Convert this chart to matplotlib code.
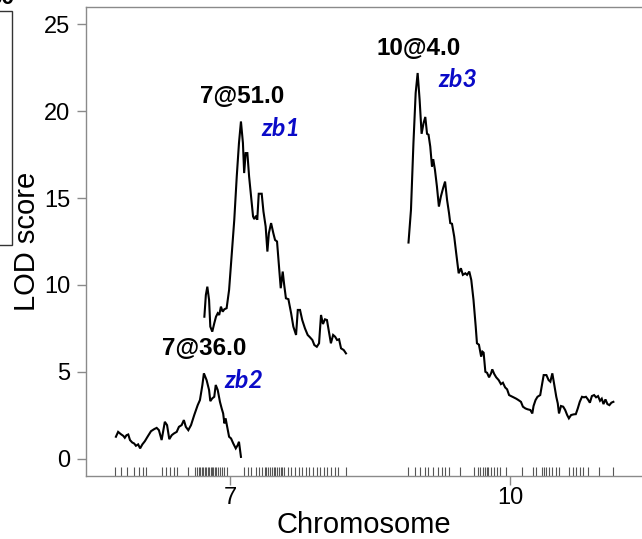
import numpy as np
import matplotlib
matplotlib.use("Agg")
import matplotlib.pyplot as plt
from matplotlib.patches import Rectangle

plt.rcParams["font.family"] = ["Liberation Sans", "DejaVu Sans"]

# chromosome layout (cM)
chromosomes = ["7", "10"]
chr_lengths = [93.5, 83.0]
chr_gap = 25.0

# marker positions (cM) drawn as a rug
chr7_markers = [0.0, 2.5, 4.7, 7.6, 9.8, 11.2, 12.7, 18.9, 20.6, 22.1, 23.8, 25.3,
                29.4, 32.5, 33.4, 34.0, 34.6, 35.2, 35.7, 36.3, 36.9, 37.5, 38.1,
                38.7, 39.2, 39.8, 40.4, 41.0, 41.7, 42.4, 43.3, 44.2, 45.3, 52.3,
                53.7, 55.2, 56.9, 58.4, 59.5, 60.6, 61.3, 62.0, 62.8, 63.5, 64.2,
                64.9, 65.6, 66.4, 67.1, 67.8, 68.5, 70.0, 71.4, 72.9, 74.3, 75.8,
                77.2, 78.7, 80.2, 81.6, 83.0, 84.5, 86.0, 87.4, 88.9, 90.3, 93.5]
chr10_markers = [0.0, 2.9, 5.1, 6.8, 8.3, 10.1, 12.3, 13.8, 15.2, 16.7, 21.3, 26.8,
                 28.3, 29.4, 30.4, 31.2, 31.9, 32.6, 33.8, 34.8, 36.3, 37.3, 39.9,
                 46.4, 50.8, 51.8, 54.4, 55.1, 55.8, 57.3, 58.5, 59.9, 61.4, 65.3,
                 66.8, 68.2, 69.6, 71.1, 73.0, 77.3, 83.0]

# zb2 (chr 7)
zb2_pos = [0.4, 1.3, 2.4, 3.4, 4.0, 4.7, 5.4, 6.1, 7.0, 7.8, 8.5, 9.4, 10.2, 11.1,
           12.1, 13.2, 14.6, 15.9, 16.9, 17.8, 18.9, 20.2, 21.1, 22.0, 23.0, 23.9,
           25.0, 25.9, 27.0, 27.9, 28.7, 29.7, 30.8, 32.1, 33.5, 34.4, 35.4, 36.0,
           37.1, 38.1, 38.6, 39.4, 40.2, 40.8, 41.6, 42.5, 43.2, 43.8, 44.3, 44.8,
           45.3, 46.2, 47.0, 47.9, 48.9, 49.7, 50.2, 51.0]
zb2_lod = [1.26, 1.54, 1.41, 1.31, 1.20, 1.35, 1.39, 1.07, 0.93, 0.87, 0.74, 0.82,
           0.59, 0.82, 1.00, 1.26, 1.58, 1.70, 1.77, 1.64, 1.07, 2.12, 1.93, 1.12,
           1.35, 1.45, 1.54, 1.83, 1.93, 2.22, 1.83, 1.64, 1.93, 2.51, 3.08, 3.37,
           4.24, 4.91, 4.52, 3.95, 3.31, 3.47, 3.56, 4.24, 3.95, 3.27, 2.89, 2.60,
           2.03, 2.32, 1.93, 1.26, 1.16, 0.87, 0.59, 0.78, 0.97, 0.10]

# zb1 (chr 7)
zb1_pos = [36.2, 36.8, 37.4, 38.1, 38.6, 39.4, 40.2, 40.9, 41.6, 42.2, 42.9, 43.6,
           44.3, 45.2, 46.2, 47.2, 48.3, 49.3, 50.2, 51.0, 51.8, 52.3, 52.9, 53.6,
           54.3, 55.1, 55.9, 56.4, 57.1, 57.6, 58.2, 59.4, 60.1, 61.0, 61.7, 62.3,
           63.2, 64.1, 64.8, 65.6, 66.4, 67.1, 67.9, 68.5, 69.2, 70.2, 71.3, 72.2,
           73.3, 74.0, 74.9, 75.8, 76.9, 78.0, 78.9, 79.9, 80.7, 81.7, 82.6, 83.4,
           84.2, 85.0, 85.8, 86.6, 87.4, 88.3, 89.1, 89.9, 90.7, 91.5, 92.6, 93.5]
zb1_lod = [8.17, 9.42, 9.90, 9.14, 7.60, 7.31, 7.79, 8.17, 8.37, 8.27, 8.75, 8.46,
           8.60, 8.66, 9.71, 11.63, 13.75, 16.24, 18.17, 19.41, 18.17, 16.44, 17.59,
           17.59, 16.24, 15.09, 13.94, 13.79, 13.98, 13.75, 15.25, 15.25, 14.23,
           13.36, 11.92, 12.98, 13.56, 12.98, 12.59, 12.50, 11.06, 9.81, 10.77,
           10.00, 9.23, 9.18, 8.37, 7.60, 7.12, 8.56, 8.56, 7.98, 7.50, 7.12, 6.99,
           6.83, 6.54, 6.44, 6.64, 8.27, 7.75, 8.02, 7.98, 7.31, 6.64, 7.12, 7.02,
           6.83, 6.87, 6.35, 6.25, 6.06]

# zb3 (chr 10)
zb3_pos = [0.3, 1.3, 2.3, 3.2, 4.0, 4.8, 5.6, 6.4, 7.1, 7.8, 8.4, 9.1, 9.8, 10.3,
           11.0, 11.8, 12.6, 13.4, 14.3, 15.1, 15.9, 16.7, 17.2, 17.9, 18.8, 19.6,
           20.6, 21.5, 22.3, 23.3, 24.0, 24.9, 25.7, 26.6, 27.5, 28.0, 28.8, 29.7,
           30.2, 30.7, 31.4, 32.1, 32.9, 33.7, 34.2, 35.0, 35.8, 36.8, 37.7, 38.5,
           39.4, 40.2, 41.0, 41.8, 42.8, 43.9, 44.8, 45.8, 46.6, 47.6, 48.5, 49.6,
           50.4, 50.9, 51.7, 52.5, 53.6, 54.3, 55.0, 56.1, 57.0, 57.7, 58.5, 59.3,
           60.1, 60.7, 61.2, 62.0, 62.9, 63.7, 64.5, 65.2, 66.1, 67.2, 68.0, 68.8,
           69.6, 70.5, 71.3, 72.1, 72.9, 73.7, 74.5, 75.4, 76.2, 77.0, 77.8, 78.5,
           79.2, 80.0, 80.8, 81.6, 82.4, 83.2]
zb3_lod = [12.44, 14.32, 18.17, 21.05, 22.20, 20.66, 18.70, 19.32, 19.67, 18.70,
           18.65, 17.97, 16.82, 17.24, 16.63, 15.67, 14.51, 15.09, 15.57, 15.95,
           14.90, 14.13, 13.56, 13.52, 12.78, 11.83, 10.67, 10.96, 10.58, 10.67,
           10.58, 10.77, 10.29, 9.14, 7.60, 6.64, 6.56, 5.87, 6.16, 6.10, 5.00, 4.94,
           4.68, 4.91, 5.14, 4.87, 4.68, 4.52, 4.29, 4.37, 4.10, 3.99, 3.66, 3.60,
           3.53, 3.45, 3.37, 3.27, 2.99, 2.89, 2.84, 2.80, 2.60, 3.03, 3.37, 3.56,
           3.66, 4.24, 4.81, 4.81, 4.52, 4.43, 4.91, 4.24, 3.56, 3.18, 2.60, 3.03,
           2.99, 2.80, 2.51, 2.32, 2.51, 2.55, 2.56, 2.89, 3.27, 3.56, 3.53, 3.56,
           3.41, 3.22, 3.60, 3.66, 3.53, 3.60, 3.33, 3.45, 3.14, 3.41, 3.14, 3.08,
           3.22, 3.27]

peak_labels = ["7@51.0", "7@36.0", "10@4.0"]
qtl_names = ["zb1", "zb2", "zb3"]

W, H = 642, 539
fig = plt.figure(figsize=(W / 100, H / 100), dpi=100)
ax = fig.add_axes([86 / W, 1 - 476 / H, (645 - 86) / W, (476 - 7) / H])

offsets = [0.0, chr_lengths[0] + chr_gap]
frame_col = "#8a8a8a"

curves = [
    (offsets[0], zb1_pos, zb1_lod),
    (offsets[0], zb2_pos, zb2_lod),
    (offsets[1], zb3_pos, zb3_lod),
]
for (off, pos, lod), plab, qname in zip(curves, peak_labels, qtl_names):
    x = off + np.array(pos)
    y = np.array(lod)
    ax.plot(x, y, color="black", lw=1.5, solid_joinstyle="miter")
    i = int(np.argmax(y))
    ax.annotate(plab, xy=(x[i], y[i]), xytext=(0.5, 18), textcoords="offset points",
                ha="center", va="center", fontsize=17.5, fontweight="bold")
    ax.annotate(qname, xy=(x[i], y[i]), xytext=(29, -5), textcoords="offset points",
                ha="center", va="center", fontsize=18, fontweight="bold",
                fontstyle="italic", family=["Lato", "DejaVu Sans"], color="#0a0ac8")

# marker rug
for off, mk in zip(offsets, [chr7_markers, chr10_markers]):
    ax.vlines(off + np.array(mk), 0, 9 / 469, transform=ax.get_xaxis_transform(),
              color="#555555", lw=0.8)

ax.set_xlim(-11.7, 214.5)
ax.set_ylim(-1, 26)
ax.set_xticks([off + L / 2 for off, L in zip(offsets, chr_lengths)])
ax.set_xticklabels(chromosomes)
ax.set_yticks(np.arange(0, 26, 5))

for s in ax.spines.values():
    s.set_color(frame_col)
    s.set_linewidth(1.0)
ax.tick_params(axis="both", color=frame_col, length=6.5, width=1.0, labelsize=17)
ax.tick_params(axis="y", pad=5)
ax.tick_params(axis="x", pad=1.5)

fig.text(364 / W, 1 - 533 / H, "Chromosome", ha="center", va="baseline", fontsize=21)
fig.text(27 / W, 1 - 241 / H, "LOD score", ha="center", va="center", rotation=90,
         fontsize=21)

# edge of a neighbouring panel, cut off by the crop
fig.add_artist(Rectangle((-0.1, 1 - 245 / H), 0.1 + 11.5 / W, (245 - 11) / H,
                         transform=fig.transFigure, fill=False, ec="#333333", lw=1.0))
fig.text(15 / W, 1 - 4 / H, "30", ha="right", va="baseline", fontsize=17,
         fontweight="bold")

fig.savefig("out.png", dpi=100)
